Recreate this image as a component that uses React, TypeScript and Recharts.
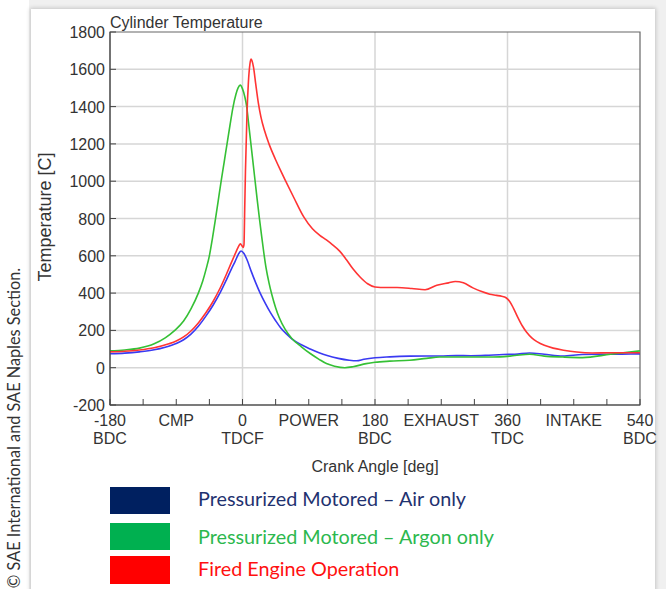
import React from 'react';
import { LineChart, Line, XAxis, YAxis, CartesianGrid, ReferenceArea } from 'recharts';

// Crank angle [deg] and temperature [C] per series
const airAngle = [-180,-160,-140,-120,-105,-90,-80,-70,-60,-50,-40,-30,-22,-15,-10,-6,-2,2,6,12,18,24,31,38,45,52,60,67,80,92,104,115,130,145,155,165,180,200,227,250,268,290,310,330,354,370,390,410,435,462,490,515,540];
const airTemp = [75,78,85,96,110,130,150,180,222,275,335,405,470,530,570,605,626,612,580,515,455,400,345,295,252,213,180,155,123,100,80,65,50,40,37,45,53,58,62,63,63,65,64,66,71,72,79,72,63,71,72,73,74];

const argonAngle = [-180,-160,-140,-120,-105,-92,-80,-70,-60,-54,-49,-45,-41,-37,-33,-29,-25,-21,-17,-13,-9,-6,-3,0,3,5.7,8,11,14,17,20,23,26,29,32,36,40,45,50,58,67,80,92,104,114,125,139,150,168,180,200,227,250,268,300,330,350,370,390,410,435,462,500,540];
const argonTemp = [90,95,105,128,160,200,250,315,400,465,535,600,690,790,895,1000,1100,1200,1300,1395,1465,1500,1515,1495,1455,1400,1320,1215,1110,1005,900,800,705,615,535,455,390,322,268,205,157,112,76,45,22,8,0,5,22,29,35,40,50,57,57,57,58,65,72,62,57,54,72,90];

const firedAngle = [-180,-160,-140,-120,-100,-90,-80,-70,-60,-50,-40,-30,-22,-15,-10,-6,-3,-1,1,2,3,4,6,8,10,11.5,13,15,18,21.5,25,30,36,45,52,60,70,83,95,105,114,122,132,141,150,160,170,180,195,210,230,248,264,280,289,300,313,325,336,345,352,358,363,368,374,380,386,393,400,410,422,436,454,475,500,540];
const firedTemp = [85,88,95,107,128,143,165,197,240,293,355,430,500,565,610,645,664,655,645,660,850,1050,1350,1530,1625,1655,1645,1610,1520,1420,1345,1270,1200,1115,1055,990,910,810,745,710,685,660,625,580,530,485,450,433,430,430,425,418,442,455,462,455,428,408,394,388,383,375,355,320,270,225,190,160,140,120,105,94,84,79,80,80];

const xTicks = [-180,-135,-90,-45,0,45,90,135,180,225,270,315,360,405,450,495,540];
const xLabelValues = [-180,-90,0,90,180,270,360,450,540];
const xLabelLine1 = ['-180','CMP','0','POWER','180','EXHAUST','360','INTAKE','540'];
const xLabelLine2 = ['BDC','','TDCF','','BDC','','TDC','','BDC'];
const yTicks = [-200,0,200,400,600,800,1000,1200,1400,1600,1800];
const gridY = [0,200,400,600,800,1000,1200,1400,1600];
const gridX = [0,180,360];

const seriesNames = ['Pressurized Motored \u2013 Air only','Pressurized Motored \u2013 Argon only','Fired Engine Operation'];
const legendBoxColors = ['#002060','#00b050','#ff0000'];
const legendTextColors = ['#1f3270','#2cb84e','#ff1010'];
const lineColors = ['#3a3af2','#35c035','#ff3434'];

const toPoints = (xs: number[], ys: number[]) => xs.map((x, i) => ({ x, y: ys[i] }));
const airData = toPoints(airAngle, airTemp);
const argonData = toPoints(argonAngle, argonTemp);
const firedData = toPoints(firedAngle, firedTemp);

const FONT = '"Liberation Sans", Arial, sans-serif';
const TEXT = '#333333';
const LEGEND_FONT = "Lato, 'Open Sans', sans-serif";

function XTick(props: any) {
  const { x, y, payload } = props;
  const idx = xLabelValues.indexOf(payload.value);
  return (
    <g>
      <line x1={x} x2={x} y1={y} y2={y - 6} stroke="#444" strokeWidth={1} />
      {idx >= 0 && (
        <text x={x} y={y + 21} textAnchor="middle" fontSize={16} fill={TEXT} fontFamily={FONT}>{xLabelLine1[idx]}</text>
      )}
      {idx >= 0 && xLabelLine2[idx] !== '' && (
        <text x={x} y={y + 39} textAnchor="middle" fontSize={16} fill={TEXT} fontFamily={FONT}>{xLabelLine2[idx]}</text>
      )}
    </g>
  );
}

function YTick(props: any) {
  const { x, y, payload } = props;
  return (
    <g>
      <line x1={x} x2={x + 6} y1={y} y2={y} stroke="#444" strokeWidth={1} />
      <text x={x - 5} y={y + 6} textAnchor="end" fontSize={16} fill={TEXT} fontFamily={FONT}>{payload.value}</text>
    </g>
  );
}

export default function App() {
  return (
    <div style={{ position: 'absolute', left: 0, top: 0, width: 666, height: 589, overflow: 'hidden', background: '#f0f0f0' }}>
      <div style={{ position: 'absolute', left: 0, top: 0, width: 29, height: 589, background: '#ffffff' }} />
      <div style={{ position: 'absolute', left: 31, top: 9, width: 624, height: 600, background: '#ffffff', boxShadow: '0 0 4px 1px rgba(0,0,0,0.18)' }} />
      <div style={{ position: 'absolute', left: 0, top: 0 }}>
        <LineChart width={666} height={589} data={airData} margin={{ top: 32, right: 26, bottom: 124, left: 50 }}>
          <CartesianGrid stroke="#d6d6d6" strokeWidth={1.5} horizontalValues={gridY} verticalValues={gridX} />
          <ReferenceArea x1={-180} x2={540} y1={-200} y2={1800} fill="none" stroke="#666" strokeWidth={1.2} />
          <XAxis type="number" dataKey="x" domain={[-180, 540]} ticks={xTicks} interval={0} tick={<XTick />} tickLine={false} tickSize={0} tickMargin={0} height={60} axisLine={{ stroke: '#444' }} allowDataOverflow />
          <YAxis type="number" domain={[-200, 1800]} ticks={yTicks} interval={0} tick={<YTick />} tickLine={false} tickSize={0} tickMargin={0} width={60} axisLine={{ stroke: '#444' }} allowDataOverflow />
          <Line data={airData} dataKey="y" type="monotone" stroke={lineColors[0]} strokeWidth={1.6} dot={false} isAnimationActive={false} />
          <Line data={argonData} dataKey="y" type="monotone" stroke={lineColors[1]} strokeWidth={1.6} dot={false} isAnimationActive={false} />
          <Line data={firedData} dataKey="y" type="monotone" stroke={lineColors[2]} strokeWidth={1.6} dot={false} isAnimationActive={false} />
        </LineChart>
      </div>
      <svg width={666} height={589} style={{ position: 'absolute', left: 0, top: 0, pointerEvents: 'none' }}>
        <text x={110} y={28} fontSize={16} fill={TEXT} fontFamily={FONT}>Cylinder Temperature</text>
        <text transform="translate(51,217) rotate(-90)" textAnchor="middle" fontSize={18} fill={TEXT} fontFamily={FONT}>Temperature [C]</text>
        <text x={375} y={472} textAnchor="middle" fontSize={16} fill={TEXT} fontFamily={FONT}>Crank Angle [deg]</text>
        <text transform="translate(20,428) rotate(-90)" textAnchor="middle" fontSize={16.3} fill="#333" fontFamily={LEGEND_FONT}>© SAE International and SAE Naples Section.</text>
        {seriesNames.map((name, i) => (
          <g key={name}>
            <rect x={110} y={[487, 523, 556][i]} width={60} height={[27, 27, 28][i]} fill={legendBoxColors[i]} />
            <text x={198} y={[506, 544, 576][i]} fontSize={19.8} fill={legendTextColors[i]} fontFamily={LEGEND_FONT}>{name}</text>
          </g>
        ))}
      </svg>
    </div>
  );
}
